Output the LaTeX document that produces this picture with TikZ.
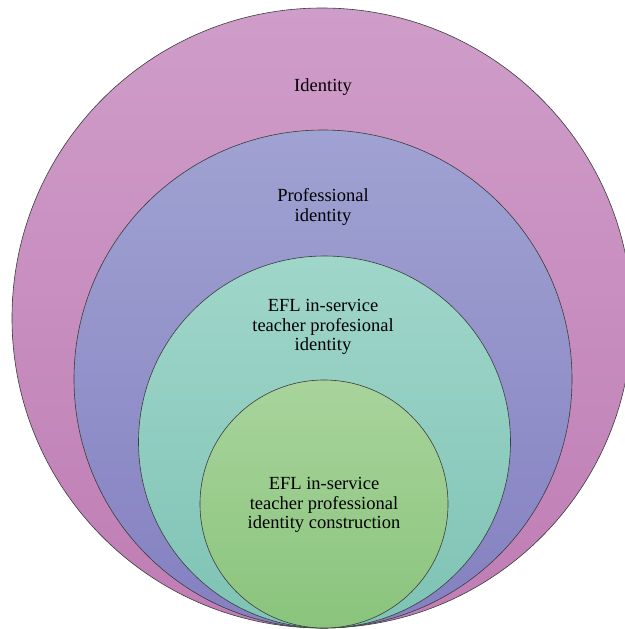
\documentclass[tikz,border=0pt]{standalone}
\usepackage{fontspec}
\setmainfont{Liberation Serif}
\definecolor{pinkTop}{HTML}{CF9DC9}
\definecolor{pinkBot}{HTML}{BF7DB4}
\definecolor{blueTop}{HTML}{A0A2D2}
\definecolor{blueBot}{HTML}{8480C1}
\definecolor{tealTop}{HTML}{A0D6CA}
\definecolor{tealBot}{HTML}{7EC3B4}
\definecolor{greenTop}{HTML}{A8D49C}
\definecolor{greenBot}{HTML}{8AC47C}
\definecolor{ringLine}{HTML}{3C3C3C}
\begin{document}
\begin{tikzpicture}[x=1pt,y=-1pt,
  ring/.style={circle, inner sep=0pt, draw=ringLine, line width=0.6pt},
  label/.style={align=center, font=\fontsize{18.5}{19.3}\selectfont, inner sep=0pt}]
\useasboundingbox (0,0) rectangle (624,629);
% nested circles, all touching at the bottom
\node[ring, minimum size=620pt, top color=pinkTop, bottom color=pinkBot] (identity) at (322,318) {};
\node[ring, minimum size=498pt, top color=blueTop, bottom color=blueBot] (prof) at (323,379) {};
\node[ring, minimum size=372pt, top color=tealTop, bottom color=tealBot] (efl) at (324.5,442) {};
\node[ring, minimum size=248pt, top color=greenTop, bottom color=greenBot] (constr) at (324,504) {};
% labels
\node[label] (t1) at (323,87) {Identity};
\node[label] (t2) at (323,207) {Professional\\identity};
\node[label] (t3) at (323,327) {EFL in-service\\teacher profesional\\identity};
\node[label] (t4) at (324,505) {EFL in-service\\teacher professional\\identity construction};
\end{tikzpicture}
\end{document}
